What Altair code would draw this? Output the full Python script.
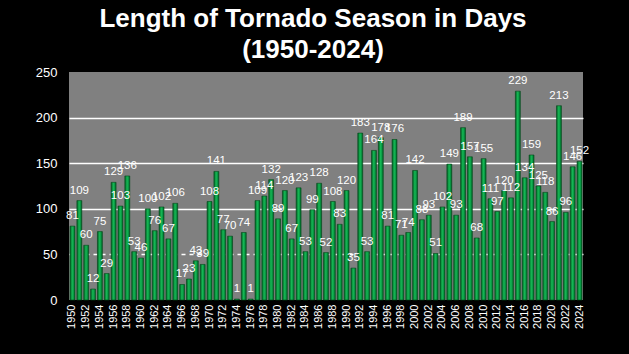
import altair as alt
import pandas as pd

years = list(range(1950, 2025))
days = [81, 109, 60, 12, 75, 29, 129, 103, 136, 53,
        46, 100, 76, 102, 67, 106, 17, 23, 43, 39,
        108, 141, 77, 70, 1, 74, 1, 109, 114, 132,
        89, 120, 67, 123, 53, 99, 128, 52, 108, 83,
        120, 35, 183, 53, 164, 178, 81, 176, 71, 74,
        142, 88, 93, 51, 102, 149, 93, 189, 157, 68,
        155, 111, 97, 120, 112, 229, 134, 159, 125, 118,
        86, 213, 96, 146, 152]
tick_years = [y for y in years if y % 2 == 0]
y_ticks = [0, 50, 100, 150, 200, 250]

df = pd.DataFrame({"year": years, "days": days})

FONT = "Liberation Sans"

x = alt.X("year:O", title=None,
          scale=alt.Scale(paddingInner=0.28, paddingOuter=0.15),
          axis=alt.Axis(values=tick_years, labelAngle=270, labelColor="white",
                        labelFont=FONT, labelFontSize=11, labelPadding=4,
                        ticks=False, domain=False, grid=False))
y = alt.Y("days:Q", title=None,
          scale=alt.Scale(domain=[0, 250], nice=False),
          axis=alt.Axis(values=y_ticks, labelColor="white", labelFont=FONT,
                        labelFontSize=13, labelPadding=12, ticks=False,
                        domain=False, grid=True, gridColor="white",
                        gridWidth=1.5,
                        gridDash={"condition": {"test": "datum.value === 50", "value": [4, 4]}, "value": []},
                        gridOpacity={"condition": {"test": "datum.value === 0 || datum.value === 250", "value": 0}, "value": 1}))

grad = alt.Gradient(gradient="linear", x1=0, x2=1, y1=0, y2=0,
                    stops=[alt.GradientStop(color="#005c22", offset=0),
                           alt.GradientStop(color="#16b854", offset=0.45),
                           alt.GradientStop(color="#0a9c46", offset=0.7),
                           alt.GradientStop(color="#005c22", offset=1)])

bars = alt.Chart(df).mark_bar(color=grad, stroke="#004a1a", strokeWidth=0.6).encode(x=x, y=y)

labels = alt.Chart(df).mark_text(color="white", font=FONT, fontSize=11.5,
                                 baseline="alphabetic", dy=-7).encode(
    x=alt.X("year:O"), y=alt.Y("days:Q"), text="days:Q")

chart = (bars + labels).properties(
    width=514, height=228,
    background="black",
    padding={"left": 69, "top": 72, "right": 46, "bottom": 54},
    autosize=alt.AutoSizeParams(type="none"),
    title=alt.TitleParams(["Length of Tornado Season in Days", "(1950-2024)"],
                          color="white", font=FONT, fontSize=26, fontWeight="bold",
                          lineHeight=31, anchor="middle", dx=-13, offset=3),
).configure_view(fill="#808080", stroke=None)

chart.save("out.html", embed_options={"renderer": "svg", "actions": False})
